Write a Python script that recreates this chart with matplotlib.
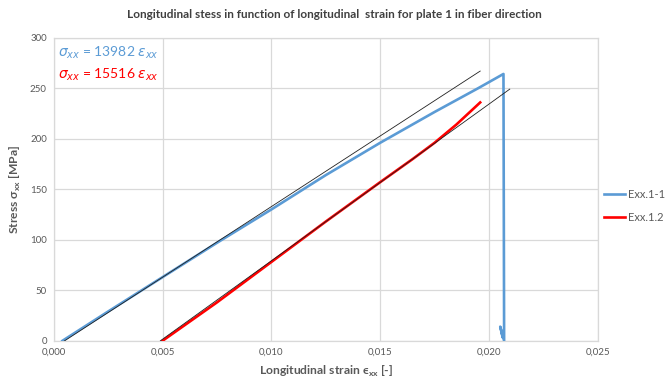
import matplotlib
matplotlib.use('Agg')
import matplotlib.pyplot as plt
import numpy as np
from matplotlib.ticker import FuncFormatter

plt.rcParams['font.family'] = ['Lato', 'DejaVu Sans']

# blue series Exx.1-1 (strain, stress)
strain_1 = [0.0004, 0.0025, 0.005, 0.0075, 0.010, 0.0125, 0.015, 0.0175, 0.0195, 0.02067,
            0.0207, 0.02052, 0.02064, 0.02058]
stress_1 = [0, 29, 63, 97, 130, 164, 196, 226.5, 250, 264.2,
            0, 14, 3, 9]

# red series Exx.1.2
strain_2 = [0.005, 0.0075, 0.010, 0.0125, 0.015, 0.0165, 0.0175, 0.0185, 0.0196]
stress_2 = [0, 38, 78, 118, 157, 180, 196, 214, 236]

# trend lines: slope, x start, x end
slope_1, x0_1, x1_1 = 13982, 0.0005, 0.0196
slope_2, x0_2, x1_2 = 15516, 0.0049, 0.02096

title = 'Longitudinal stess in function of longitudinal  strain for plate 1 in fiber direction'
xticks = [0, 0.005, 0.010, 0.015, 0.020, 0.025]
yticks = [0, 50, 100, 150, 200, 250, 300]

blue = '#5B9BD5'
red = '#FF0000'
grid_c = '#D9D9D9'
txt_c = '#595959'

fig = plt.figure(figsize=(6.69, 3.81), dpi=100)
ax = fig.add_axes([0.0803, 0.1055, 0.8131, 0.7953])

ax.plot(strain_1, stress_1, color=blue, lw=1.9, label='Exx.1-1', zorder=3)
ax.plot(strain_2, stress_2, color=red, lw=1.9, label='Exx.1.2', zorder=3)

tx = np.array([x0_1, x1_1])
ax.plot(tx, slope_1 * (tx - x0_1), color='#202020', lw=0.6, zorder=4)
tx = np.array([x0_2, x1_2])
ax.plot(tx, slope_2 * (tx - x0_2), color='#202020', lw=0.6, zorder=4)

ax.set_xlim(0, 0.025)
ax.set_ylim(0, 300)
ax.set_xticks(xticks)
ax.set_yticks(yticks)
ax.xaxis.set_major_formatter(FuncFormatter(lambda v, p: ('%.3f' % v).replace('.', ',')))
ax.grid(True, color=grid_c, lw=0.9)
ax.set_axisbelow(True)
for s in ax.spines.values():
    s.set_color(grid_c)
    s.set_linewidth(0.9)
ax.tick_params(length=0, labelsize=7, labelcolor=txt_c, pad=5)

ax.set_xlabel(r'Longitudinal strain ϵ$_{\mathregular{xx}}$ [-]', fontsize=8.7,
              fontweight='bold', color=txt_c, labelpad=5)
ax.set_ylabel(r'Stress σ$_{\mathregular{xx}}$ [MPa]', fontsize=8.7,
              fontweight='bold', color=txt_c, labelpad=5)
fig.text(0.5, 0.962, title, ha='center', va='center', fontsize=8.5,
         fontweight='bold', color='#404040')

ax.text(0.008, 0.95, r'$\sigma_{xx}$ = 13982 $\epsilon_{xx}$', transform=ax.transAxes,
        color=blue, fontsize=10, va='center')
ax.text(0.008, 0.877, r'$\sigma_{xx}$ = 15516 $\epsilon_{xx}$', transform=ax.transAxes,
        color=red, fontsize=10, va='center')

ax.legend(loc='center left', bbox_to_anchor=(1.012, 0.445), frameon=False,
          fontsize=8, labelcolor=txt_c, handlelength=1.9, handletextpad=0.25,
          labelspacing=1.05, borderpad=0.0, borderaxespad=0.0)

fig.savefig('out.png', dpi=100)
